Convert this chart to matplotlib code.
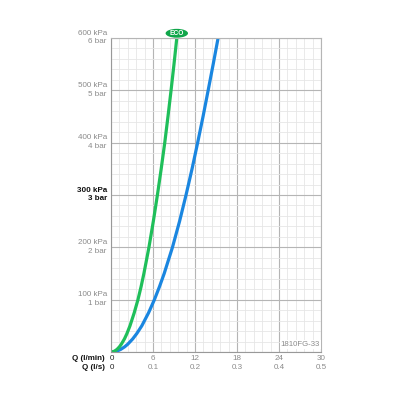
import matplotlib
matplotlib.use("Agg")
import matplotlib.pyplot as plt
from matplotlib.patches import Ellipse
from matplotlib.ticker import MultipleLocator

plt.rcParams['font.family'] = ['Liberation Sans', 'DejaVu Sans']

# Data
pressure_kpa = [0, 1, 2, 5, 10, 15, 25, 35, 50, 75, 100, 125, 150, 200, 250, 300, 350, 400, 450, 500, 550, 600]
eco_flow = [0, 0.38, 0.54, 0.86, 1.21, 1.48, 1.92, 2.27, 2.71, 3.32, 3.85, 4.3, 4.7, 5.42, 6.05, 6.63, 7.17, 7.68, 8.14, 8.58, 9.0, 9.4]
std_flow = [0, 0.62, 0.88, 1.39, 1.96, 2.4, 3.1, 3.67, 4.4, 5.37, 6.2, 6.93, 7.6, 8.78, 9.8, 10.72, 11.58, 12.38, 13.15, 13.88, 14.6, 15.3]

x_ticks_lmin = [0, 6, 12, 18, 24, 30]
x_labels_ls = ['0', '0.1', '0.2', '0.3', '0.4', '0.5']
y_ticks = [100, 200, 300, 400, 500, 600]
y_labels = [('100 kPa', '1 bar'), ('200 kPa', '2 bar'), ('300 kPa', '3 bar'),
            ('400 kPa', '4 bar'), ('500 kPa', '5 bar'), ('600 kPa', '6 bar')]

GREEN = '#1fbf5a'
BLUE = '#1a86e0'
GRAY = '#8a8a8a'

fig = plt.figure(figsize=(4, 4), dpi=100)
ax = fig.add_axes([0.2775, 0.12, 0.525, 0.785])
ax.set_xlim(0, 30)
ax.set_ylim(0, 600)

ax.xaxis.set_major_locator(MultipleLocator(6))
ax.xaxis.set_minor_locator(MultipleLocator(1.2))
ax.yaxis.set_major_locator(MultipleLocator(100))
ax.yaxis.set_minor_locator(MultipleLocator(20))
ax.grid(which='major', color='#b5b5b5', linewidth=0.8)
ax.grid(which='minor', color='#e6e6e6', linewidth=0.6)
ax.set_axisbelow(True)
for s in ax.spines.values():
    s.set_color('#b5b5b5')
    s.set_linewidth(0.8)
ax.spines['left'].set_color('#999999')
ax.spines['bottom'].set_color('#999999')
ax.tick_params(which='both', length=0, labelbottom=False, labelleft=False)

ax.plot(std_flow, pressure_kpa, color=BLUE, linewidth=2.3, solid_capstyle='butt',
        solid_joinstyle='round', clip_on=True)
ax.plot(eco_flow, pressure_kpa, color=GREEN, linewidth=2.3, solid_capstyle='butt',
        solid_joinstyle='round', clip_on=True)

fs = 5.8
# y labels
for val, (l1, l2) in zip(y_ticks, y_labels):
    bold = (val == 300)
    col = '#111111' if bold else GRAY
    fw = 'bold' if bold else 'normal'
    ax.annotate(l1, xy=(0, val), xycoords=('axes fraction', 'data'),
                xytext=(-3, 3.5), textcoords='offset points', ha='right', va='center',
                fontsize=fs, color=col, fontweight=fw)
    ax.annotate(l2, xy=(0, val), xycoords=('axes fraction', 'data'),
                xytext=(-3, -2.8), textcoords='offset points', ha='right', va='center',
                fontsize=fs, color=col, fontweight=fw)

# x labels
for i, (v, ls) in enumerate(zip(x_ticks_lmin, x_labels_ls)):
    col = '#222222' if i == 0 else GRAY
    ax.annotate(str(v), xy=(v, 0), xycoords=('data', 'axes fraction'),
                xytext=(0 if i else 1, -5.0), textcoords='offset points', ha='center', va='center',
                fontsize=fs, color=col)
    ax.annotate(ls, xy=(v, 0), xycoords=('data', 'axes fraction'),
                xytext=(0 if i else 1, -11.3), textcoords='offset points', ha='center', va='center',
                fontsize=fs, color=col)
ax.annotate('Q (l/min)', xy=(0, 0), xycoords='axes fraction', xytext=(-4.5, -5.0),
            textcoords='offset points', ha='right', va='center', fontsize=fs,
            fontweight='bold', color='#111111')
ax.annotate('Q (l/s)', xy=(0, 0), xycoords='axes fraction', xytext=(-4.5, -11.3),
            textcoords='offset points', ha='right', va='center', fontsize=fs,
            fontweight='bold', color='#111111')

# model code
ax.text(0.995, 0.012, '1810FG-33', transform=ax.transAxes, ha='right', va='bottom',
        fontsize=5.6, color=GRAY,
        bbox=dict(facecolor='white', edgecolor='none', pad=0.6))

# ECO badge
eco_x = eco_flow[-1]
ax.add_patch(Ellipse((eco_x, 609), width=3.2, height=17, transform=ax.transData,
                     facecolor='#10a64a', edgecolor='none', clip_on=False))
ax.text(eco_x, 609, 'ECO', ha='center', va='center', fontsize=4.8, fontweight='bold',
        color='white', clip_on=False)

fig.savefig('out.png', dpi=100, facecolor='white')
